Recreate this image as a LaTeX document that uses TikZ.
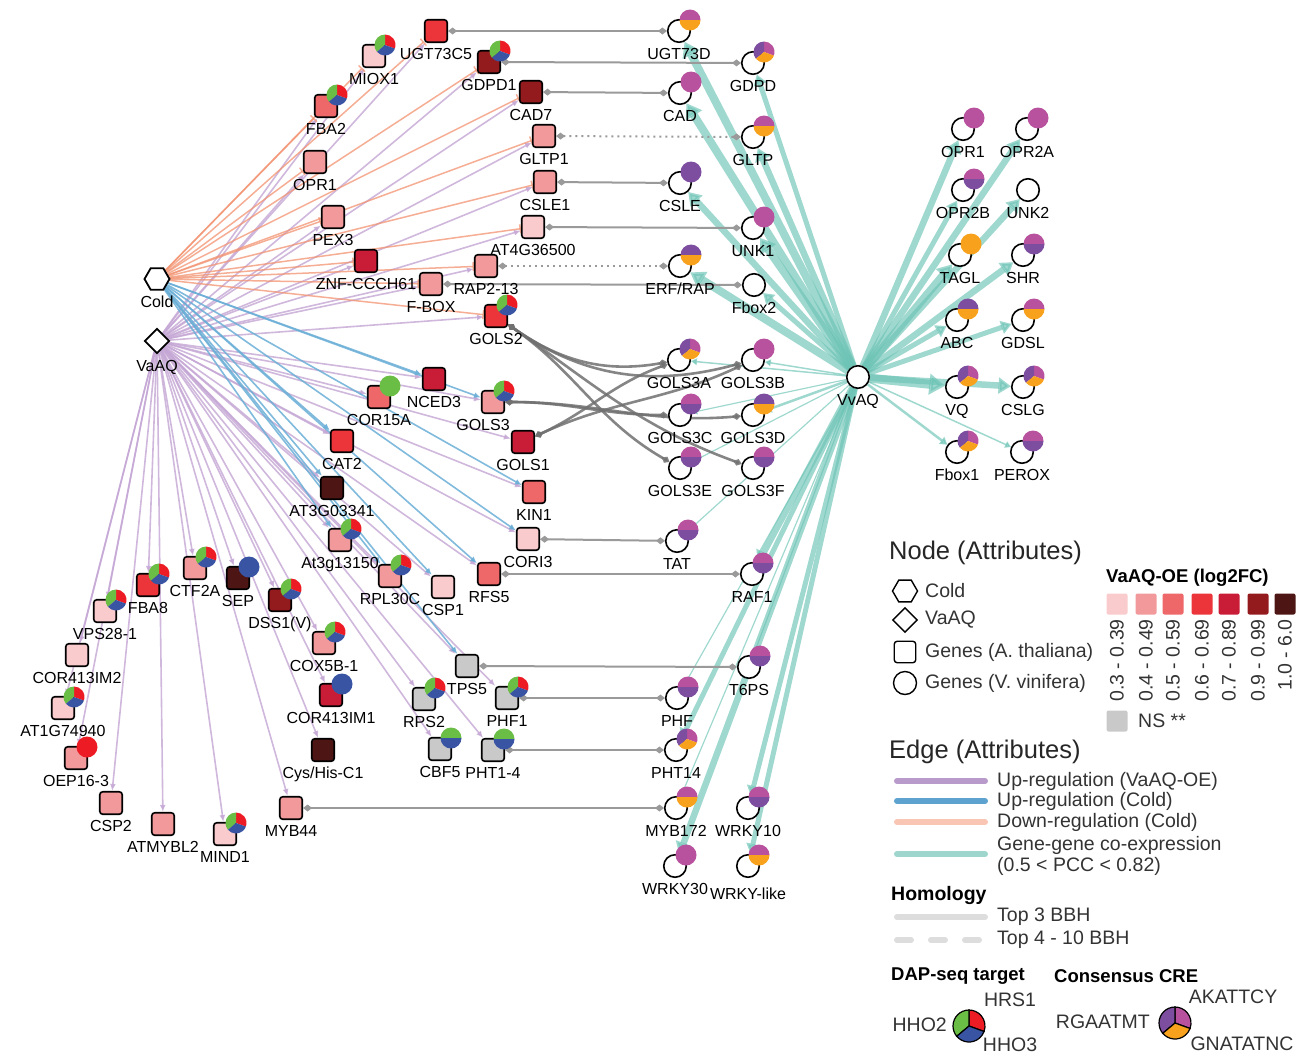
\documentclass[tikz,border=0pt]{standalone}
\usepackage{fontspec}
\setmainfont{Liberation Sans}
\usetikzlibrary{shapes, arrows.meta}
\usetikzlibrary{positioning, shapes.geometric, backgrounds}

% fold-change scale
\definecolor{fc1}{HTML}{F9CBCC}
\definecolor{fc2}{HTML}{F29A9B}
\definecolor{fc3}{HTML}{EE6769}
\definecolor{fc4}{HTML}{EC353A}
\definecolor{fc5}{HTML}{C91D37}
\definecolor{fc6}{HTML}{931B1E}
\definecolor{fc7}{HTML}{4D1513}
\definecolor{fcNS}{HTML}{C9C9C9}
% pies
\definecolor{dapG}{HTML}{6ABD45}
\definecolor{dapR}{HTML}{ED1C24}
\definecolor{dapB}{HTML}{3A54A4}
\definecolor{creM}{HTML}{B8519E}
\definecolor{creP}{HTML}{7D4E9F}
\definecolor{creO}{HTML}{F7A11C}
% edges
\definecolor{eorng}{HTML}{F29270}
\definecolor{epurp}{HTML}{C4A6D4}
\definecolor{eblu}{HTML}{6AAED6}
\definecolor{ecoex}{HTML}{6CC3B5}
\definecolor{ehom}{HTML}{9A9A9A}
\definecolor{ecur}{HTML}{707070}
% legend
\definecolor{legtext}{HTML}{333333}
\definecolor{legpurp}{HTML}{B99BCB}
\definecolor{legblu}{HTML}{5EA3CF}
\definecolor{legorng}{HTML}{F9C6B3}
\definecolor{legteal}{HTML}{9ED6CE}
\definecolor{leggry}{HTML}{DDDDDD}

\newcommand{\lblfont}{\fontsize{16}{18}\selectfont}
\newcommand{\legfont}{\fontsize{19.5}{21}\selectfont}
\newcommand{\headfont}{\fontsize{25.5}{27}\selectfont}

\tikzset{
  atg/.style={draw=black, line width=1.6pt, rounded corners=3pt, minimum size=22.5pt, inner sep=0pt},
  vvg/.style={circle, draw=black, line width=1.6pt, fill=white, minimum size=22.5pt, inner sep=0pt},
  hexa/.style={regular polygon, regular polygon sides=6, draw=black, line width=1.8pt, fill=white, minimum size=25pt, inner sep=0pt},
  diam/.style={diamond, draw=black, line width=1.8pt, fill=white, minimum size=25pt, inner sep=0pt},
  every label/.style={font=\lblfont, inner sep=0pt, text height=11.5pt, text depth=0pt},
  dnreg/.style={draw=eorng, draw opacity=0.75, line width=1.5pt, -{Bar[width=9pt, line width=1.5pt]}},
  upva/.style={draw=epurp, draw opacity=0.8, fill opacity=0.8, line width=1.6pt, -{Latex[length=7pt, width=6pt]}},
  upcold/.style={draw=eblu, draw opacity=0.85, fill opacity=0.85, line width=1.6pt, -{Latex[length=7pt, width=6pt]}},
  coex/.style={draw=ecoex, draw opacity=0.65, fill opacity=0.65, -{Triangle[length=4pt 1.3, width=4pt 1.8]}},
  hom/.style={draw=ehom, line width=2pt, {Diamond[length=9pt, width=7pt]}-{Diamond[length=9pt, width=7pt]}},
  homdot/.style={hom, dash pattern=on 2pt off 4pt},
  homcur/.style={hom, draw=ecur, draw opacity=0.85, fill opacity=0.85, line width=2.6pt},
  legtxt/.style={font=\legfont, text=legtext, anchor=west, inner sep=0pt},
  pics/dap/.style={code={
    \fill[dapR] (0,0) -- (-20:10.5) arc[start angle=-20, end angle=90, radius=10.5] -- cycle;
    \fill[dapG] (0,0) -- (90:10.5) arc[start angle=90, end angle=220, radius=10.5] -- cycle;
    \fill[dapB] (0,0) -- (220:10.5) arc[start angle=220, end angle=340, radius=10.5] -- cycle;
  }},
  pics/cre/.style={code={
    \fill[creM] (0,0) -- (-20:10.5) arc[start angle=-20, end angle=90, radius=10.5] -- cycle;
    \fill[creP] (0,0) -- (90:10.5) arc[start angle=90, end angle=220, radius=10.5] -- cycle;
    \fill[creO] (0,0) -- (220:10.5) arc[start angle=220, end angle=340, radius=10.5] -- cycle;
  }},
  pics/halves/.style 2 args={code={
    \fill[#1] (10.5,0) arc[start angle=0, end angle=180, radius=10.5] -- cycle;
    \fill[#2] (-10.5,0) arc[start angle=180, end angle=360, radius=10.5] -- cycle;
  }},
  pics/onecol/.style={code={\fill[#1] (0,0) circle[radius=10.5];}}
}

\begin{document}
\begin{tikzpicture}[x=1pt, y=1pt, label distance=5pt]
\useasboundingbox (0,0) rectangle (1308,-1055);

%--------- treatments
\node[hexa, label=below:Cold] (Cold) at (157,-279) {};
\node[diam, label=below:VaAQ] (VaAQ) at (157,-341) {};

%--------- A. thaliana genes
\node[atg, fill=fc4, label=below:UGT73C5]    (UGT73C5)   at (436,-31)  {};
\node[atg, fill=fc1, label=below:MIOX1]      (MIOX1)     at (374,-56)  {};
\node[atg, fill=fc3, label=below:FBA2]       (FBA2)      at (326,-106) {};
\node[atg, fill=fc2, label=below:OPR1]       (atOPR1)    at (315,-162) {};
\node[atg, fill=fc2, label=below:PEX3]       (PEX3)      at (333,-217) {};
\node[atg, fill=fc5, label=below:ZNF-CCCH61] (ZNF)       at (366,-261) {};
\node[atg, fill=fc2, label=below:F-BOX]      (FBOX)      at (431,-284) {};
\node[atg, fill=fc6, label=below:GDPD1]      (GDPD1)     at (489,-62)  {};
\node[atg, fill=fc6, label=below:CAD7]       (CAD7)      at (531,-92)  {};
\node[atg, fill=fc2, label=below:GLTP1]      (GLTP1)     at (544,-136) {};
\node[atg, fill=fc2, label=below:CSLE1]      (CSLE1)     at (545,-182) {};
\node[atg, fill=fc1, label=below:AT4G36500]  (AT4G36500) at (533,-227) {};
\node[atg, fill=fc2, label=below:RAP2-13]    (RAP213)    at (486,-266) {};
\node[atg, fill=fc4, label=below:GOLS2]      (GOLS2)     at (496,-316) {};
\node[atg, fill=fc5, label=below:NCED3]      (NCED3)     at (434,-379) {};
\node[atg, fill=fc3, label=below:COR15A]     (COR15A)    at (379,-397) {};
\node[atg, fill=fc2, label={[xshift=-10pt]below:GOLS3}] (GOLS3) at (493,-402) {};
\node[atg, fill=fc5, label=below:GOLS1]      (GOLS1)     at (523,-442) {};
\node[atg, fill=fc4, label=below:CAT2]       (CAT2)      at (342,-441) {};
\node[atg, fill=fc7, label=below:AT3G03341]  (AT3G03341) at (332,-488) {};
\node[atg, fill=fc3, label=below:KIN1]       (KIN1)      at (534,-492) {};
\node[atg, fill=fc2, label=below:At3g13150]  (At3g13150) at (340,-540) {};
\node[atg, fill=fc1, label=below:CORI3]      (CORI3)     at (528,-539) {};
\node[atg, fill=fc2, label=below:RPL30C]     (RPL30C)    at (390,-576) {};
\node[atg, fill=fc1, label=below:CSP1]       (CSP1)      at (443,-587) {};
\node[atg, fill=fc3, label=below:RFS5]       (RFS5)      at (489,-574) {};
\node[atg, fill=fcNS, label=below:TPS5]      (TPS5)      at (467,-666) {};
\node[atg, fill=fcNS, label=below:RPS2]      (RPS2)      at (424,-699) {};
\node[atg, fill=fcNS, label=below:PHF1]      (PHF1)      at (507,-698) {};
\node[atg, fill=fcNS, label=below:CBF5]      (CBF5)      at (440,-749) {};
\node[atg, fill=fcNS, label=below:PHT1-4]    (atPHT14)   at (493,-750) {};
\node[atg, fill=fc1, label=below:VPS28-1]    (VPS28)     at (105,-611) {};
\node[atg, fill=fc4, label=below:FBA8]       (FBA8)      at (148,-585) {};
\node[atg, fill=fc2, label=below:CTF2A]      (CTF2A)     at (195,-568) {};
\node[atg, fill=fc7, label=below:SEP]        (SEP)       at (238,-578) {};
\node[atg, fill=fc6, label=below:DSS1(V)]    (DSS1)      at (280,-600) {};
\node[atg, fill=fc2, label=below:COX5B-1]    (COX5B)     at (324,-643) {};
\node[atg, fill=fc5, label=below:COR413IM1]  (COR413IM1) at (331,-695) {};
\node[atg, fill=fc7, label=below:Cys/His-C1] (CysHis)    at (323,-750) {};
\node[atg, fill=fc1, label=below:COR413IM2]  (COR413IM2) at (77,-655)  {};
\node[atg, fill=fc1, label=below:AT1G74940]  (AT1G74940) at (63,-708)  {};
\node[atg, fill=fc2, label=below:OEP16-3]    (OEP163)    at (76,-758)  {};
\node[atg, fill=fc2, label=below:CSP2]       (CSP2)      at (111,-803) {};
\node[atg, fill=fc2, label=below:ATMYBL2]    (ATMYBL2)   at (163,-824) {};
\node[atg, fill=fc1, label=below:MIND1]      (MIND1)     at (225,-834) {};
\node[atg, fill=fc2, label=below:MYB44]      (MYB44)     at (291,-808) {};

%--------- V. vinifera genes
\node[vvg, label=below:VvAQ]     (VvAQ)    at (858,-377) {};
\node[vvg, label=below:UGT73D]   (UGT73D)  at (679,-31)  {};
\node[vvg, label=below:GDPD]     (GDPD)    at (753,-63)  {};
\node[vvg, label=below:CAD]      (CAD)     at (680,-93)  {};
\node[vvg, label=below:GLTP]     (GLTP)    at (753,-137) {};
\node[vvg, label=below:CSLE]     (CSLE)    at (680,-183) {};
\node[vvg, label=below:UNK1]     (UNK1)    at (753,-228) {};
\node[vvg, label=below:ERF/RAP]  (ERFRAP)  at (680,-266) {};
\node[vvg, label=below:Fbox2]    (Fbox2)   at (754,-285) {};
\node[vvg, label=below:GOLS3A]   (GOLS3A)  at (679,-360) {};
\node[vvg, label=below:GOLS3B]   (GOLS3B)  at (753,-360) {};
\node[vvg, label=below:GOLS3C]   (GOLS3C)  at (680,-415) {};
\node[vvg, label=below:GOLS3D]   (GOLS3D)  at (753,-415) {};
\node[vvg, label=below:GOLS3E]   (GOLS3E)  at (680,-468) {};
\node[vvg, label=below:GOLS3F]   (GOLS3F)  at (753,-468) {};
\node[vvg, label=below:TAT]      (TAT)     at (677,-541) {};
\node[vvg, label=below:RAF1]     (RAF1)    at (752,-574) {};
\node[vvg, label=below:T6PS]     (T6PS)    at (749,-667) {};
\node[vvg, label=below:PHF]      (PHF)     at (677,-698) {};
\node[vvg, label=below:PHT14]    (PHT14)   at (676,-750) {};
\node[vvg, label=below:MYB172]   (MYB172)  at (676,-808) {};
\node[vvg, label=below:WRKY10]   (WRKY10)  at (748,-808) {};
\node[vvg, label=below:WRKY30]   (WRKY30)  at (675,-866) {};
\node[vvg, label={[yshift=-5pt]below:WRKY-like}] (WRKYlike) at (748,-866) {};
\node[vvg, label=below:OPR1]     (vvOPR1)  at (963,-129) {};
\node[vvg, label=below:OPR2A]    (OPR2A)   at (1027,-129) {};
\node[vvg, label=below:OPR2B]    (OPR2B)   at (963,-190) {};
\node[vvg, label=below:UNK2]     (UNK2)    at (1028,-190) {};
\node[vvg, label=below:TAGL]     (TAGL)    at (960,-255) {};
\node[vvg, label=below:SHR]      (SHR)     at (1023,-255) {};
\node[vvg, label=below:ABC]      (ABC)     at (957,-320) {};
\node[vvg, label=below:GDSL]     (GDSL)    at (1023,-320) {};
\node[vvg, label=below:VQ]       (VQ)      at (957,-387) {};
\node[vvg, label=below:CSLG]     (CSLG)    at (1023,-387) {};
\node[vvg, label=below:Fbox1]    (Fbox1)   at (957,-452) {};
\node[vvg, label=below:PEROX]    (PEROX)   at (1022,-452) {};

%--------- DAP-seq pies
\foreach \g in {MIOX1, FBA2, GDPD1, GOLS2, GOLS3, At3g13150, RPL30C, CTF2A, FBA8, VPS28, DSS1, COX5B, AT1G74940, MIND1, RPS2, PHF1}
  \pic at ([shift={(11,11)}]\g.center) {dap};
\pic at ([shift={(11,11)}]COR15A.center) {onecol=dapG};
\pic at ([shift={(11,11)}]SEP.center) {onecol=dapB};
\pic at ([shift={(11,11)}]COR413IM1.center) {onecol=dapB};
\pic at ([shift={(11,11)}]OEP163.center) {onecol=dapR};
\pic at ([shift={(11,11)}]CBF5.center) {halves={dapG}{dapB}};
\pic at ([shift={(11,11)}]atPHT14.center) {halves={dapG}{dapB}};

%--------- CRE pies
\foreach \g in {GDPD, GOLS3A, PHT14, VQ, CSLG, Fbox1}
  \pic at ([shift={(11,11)}]\g.center) {cre};
\foreach \g in {CAD, UNK1, GOLS3B, WRKY30, vvOPR1, OPR2A}
  \pic at ([shift={(11,11)}]\g.center) {onecol=creM};
\pic at ([shift={(11,11)}]CSLE.center) {onecol=creP};
\pic at ([shift={(11,11)}]TAGL.center) {onecol=creO};
\foreach \g in {UGT73D, GLTP, MYB172, WRKYlike, GDSL}
  \pic at ([shift={(11,11)}]\g.center) {halves={creM}{creO}};
\foreach \g in {GOLS3C, GOLS3E, GOLS3F, TAT, RAF1, T6PS, PHF, WRKY10, OPR2B, SHR, PEROX}
  \pic at ([shift={(11,11)}]\g.center) {halves={creM}{creP}};
\foreach \g in {ERFRAP, GOLS3D, ABC}
  \pic at ([shift={(11,11)}]\g.center) {halves={creP}{creO}};

%--------- edges
\begin{scope}[on background layer]
  % co-expression with VvAQ
  \foreach \g/\w in {UGT73D/8pt, GDPD/5pt, CAD/8pt, GLTP/6.5pt, CSLE/6.5pt, UNK1/8pt, ERFRAP/8pt, Fbox2/5pt,
      GOLS3A/1.5pt, GOLS3B/1.5pt, GOLS3C/1.2pt, GOLS3D/2.5pt, GOLS3E/1.2pt, TAT/1.2pt, RAF1/6.5pt, T6PS/1.2pt,
      PHF/1.2pt, PHT14/5pt, MYB172/1.2pt, WRKY30/6.5pt, WRKY10/5pt, WRKYlike/5pt,
      vvOPR1/6.5pt, OPR2A/6.5pt, OPR2B/5pt, UNK2/6.5pt, TAGL/8pt, SHR/6.5pt, ABC/5pt, GDSL/5pt,
      VQ/9pt, CSLG/6.5pt, Fbox1/2.5pt, PEROX/1.5pt}
    \draw[coex, line width=\w] (VvAQ) -- (\g);
  % VaAQ-OE up-regulation
  \foreach \g in {UGT73C5, MIOX1, FBA2, atOPR1, PEX3, ZNF, FBOX, GDPD1, CAD7, GLTP1, CSLE1, AT4G36500,
      RAP213, GOLS2, NCED3, COR15A, GOLS3, GOLS1, CAT2, AT3G03341, KIN1, At3g13150, CORI3, RPL30C,
      CSP1, RFS5, TPS5, RPS2, PHF1, CBF5, atPHT14, VPS28, FBA8, CTF2A, SEP, DSS1, COX5B, COR413IM1,
      CysHis, COR413IM2, AT1G74940, OEP163, CSP2, ATMYBL2, MIND1, MYB44}
    \draw[upva] (VaAQ) -- (\g);
  % cold up-regulation
  \foreach \g in {NCED3, GOLS3, CAT2, AT3G03341, KIN1, At3g13150, CORI3, RPL30C, CSP1, RFS5, TPS5}
    \draw[upcold] (Cold) -- (\g);
  % cold down-regulation
  \foreach \g in {UGT73C5, MIOX1, FBA2, atOPR1, PEX3, ZNF, FBOX, GDPD1, CAD7, GLTP1, CSLE1, AT4G36500, RAP213, GOLS2}
    \draw[dnreg] (Cold) -- (\g);
  % homology
  \draw[hom] (UGT73C5)--(UGT73D);
  \draw[hom] (GDPD1)--(GDPD);
  \draw[hom] (CAD7)--(CAD);
  \draw[homdot] (GLTP1)--(GLTP);
  \draw[hom] (CSLE1)--(CSLE);
  \draw[hom] (AT4G36500)--(UNK1);
  \draw[homdot] (RAP213)--(ERFRAP);
  \draw[hom] (FBOX)--(Fbox2);
  \draw[hom] (CORI3)--(TAT);
  \draw[hom] (RFS5)--(RAF1);
  \draw[hom] (TPS5)--(T6PS);
  \draw[hom] (PHF1)--(PHF);
  \draw[hom] (atPHT14)--(PHT14);
  \draw[hom] (MYB44)--(MYB172);
  \draw[homcur] (GOLS2) to[out=-35, in=190] (GOLS3A);
  \draw[homcur] (GOLS2) to[out=-35, in=195] (GOLS3B);
  \draw[homcur] (GOLS2) to[out=-35, in=150] (GOLS3E);
  \draw[homcur] (GOLS2) to[out=-35, in=160] (GOLS3F);
  \draw[homcur] (GOLS3) to[out=0, in=180] (GOLS3C);
  \draw[homcur] (GOLS3) to[out=0, in=185] (GOLS3D);
  \draw[homcur] (GOLS1) to[out=25, in=200] (GOLS3A);
  \draw[homcur] (GOLS1) to[out=25, in=205] (GOLS3B);
\end{scope}

%--------- legend: nodes
\node[font=\headfont, text=black!85, anchor=west, inner sep=0pt] (nodehead) at (889,-553) {Node (Attributes)};
\node[regular polygon, regular polygon sides=6, draw=black, line width=1.4pt, minimum size=25pt, inner sep=0pt] (lcold) at (905,-591) {};
\node[legtxt] (tcold) at (925,-591) {Cold};
\node[diamond, draw=black, line width=1.4pt, minimum size=25pt, inner sep=0pt] (lvaaq) at (905,-620) {};
\node[legtxt] (tvaaq) at (925,-620) {VaAQ};
\node[draw=black, line width=1.4pt, rounded corners=3pt, minimum size=21.5pt, inner sep=0pt] (lath) at (905,-652) {};
\node[legtxt] (tath) at (925,-652) {Genes (A. thaliana)};
\node[circle, draw=black, line width=1.4pt, minimum size=23pt, inner sep=0pt] (lvvi) at (905,-683) {};
\node[legtxt] (tvvi) at (925,-683) {Genes (V. vinifera)};

\node[font=\fontsize{18.5}{20}\selectfont\bfseries, anchor=west, inner sep=0pt] (fchead) at (1106,-578) {VaAQ-OE (log2FC)};
\foreach \c/\x/\t [count=\i] in {fc1/1117/0.3 - 0.39, fc2/1146/0.4 - 0.49, fc3/1173/0.5 - 0.59, fc4/1202/0.6 - 0.69,
    fc5/1229/0.7 - 0.89, fc6/1258/0.9 - 0.99, fc7/1285/1.0 - 6.0} {
  \node[fill=\c, rounded corners=2pt, minimum size=21pt, inner sep=0pt] (key\i) at (\x,-604) {};
  \node[font=\legfont, text=legtext, rotate=90, anchor=east, inner sep=0pt] (keyt\i) at (\x,-619) {\t};
}
\node[fill=fcNS, rounded corners=2pt, minimum size=21pt, inner sep=0pt] (keyns) at (1117,-721) {};
\node[legtxt] (tns) at (1138,-721) {NS **};

%--------- legend: edges
\node[font=\headfont, text=black!85, anchor=west, inner sep=0pt] (edgehead) at (889,-752) {Edge (Attributes)};
\draw[legpurp, line width=6pt, line cap=round] (897,-781) -- (985,-781);
\node[legtxt] (tupva) at (997,-781) {Up-regulation (VaAQ-OE)};
\draw[legblu, line width=6pt, line cap=round] (897,-801) -- (985,-801);
\node[legtxt] (tupc) at (997,-801) {Up-regulation (Cold)};
\draw[legorng, line width=6pt, line cap=round] (897,-822) -- (985,-822);
\node[legtxt] (tdnc) at (997,-822) {Down-regulation (Cold)};
\draw[legteal, line width=6pt, line cap=round] (897,-854) -- (985,-854);
\node[legtxt, align=left] (tcoex) at (997,-856) {Gene-gene co-expression\\(0.5 < PCC < 0.82)};

\node[font=\fontsize{19.5}{21}\selectfont\bfseries, anchor=west, inner sep=0pt] (homhead) at (891,-895) {Homology};
\draw[leggry, line width=6pt, line cap=round] (897,-917) -- (985,-917);
\node[legtxt] (ttop3) at (997,-917) {Top 3 BBH};
\draw[leggry, line width=6pt, line cap=round, dash pattern=on 14pt off 20pt] (897,-940) -- (985,-940);
\node[legtxt] (ttop10) at (997,-940) {Top 4 - 10 BBH};

%--------- legend: pies
\node[font=\fontsize{18.5}{20}\selectfont\bfseries, anchor=west, inner sep=0pt] (daphead) at (891,-976) {DAP-seq target};
\node[font=\fontsize{18.5}{20}\selectfont\bfseries, anchor=west, inner sep=0pt] (crehead) at (1054,-976) {Consensus CRE};
\begin{scope}[shift={(969,-1026)}, line width=1.2pt]
  \filldraw[fill=dapR] (0,0) -- (-20:16) arc[start angle=-20, end angle=90, radius=16] -- cycle;
  \filldraw[fill=dapG] (0,0) -- (90:16) arc[start angle=90, end angle=220, radius=16] -- cycle;
  \filldraw[fill=dapB] (0,0) -- (220:16) arc[start angle=220, end angle=340, radius=16] -- cycle;
\end{scope}
\node[font=\legfont, text=legtext, anchor=east, inner sep=0pt] (thho2) at (947,-1025) {HHO2};
\node[font=\legfont, text=legtext, inner sep=0pt] (thrs1) at (1010,-1000) {HRS1};
\node[font=\legfont, text=legtext, inner sep=0pt] (thho3) at (1010,-1045) {HHO3};
\begin{scope}[shift={(1175,-1023)}, line width=1.2pt]
  \filldraw[fill=creM] (0,0) -- (-20:16) arc[start angle=-20, end angle=90, radius=16] -- cycle;
  \filldraw[fill=creP] (0,0) -- (90:16) arc[start angle=90, end angle=220, radius=16] -- cycle;
  \filldraw[fill=creO] (0,0) -- (220:16) arc[start angle=220, end angle=340, radius=16] -- cycle;
\end{scope}
\node[font=\legfont, text=legtext, anchor=east, inner sep=0pt] (trga) at (1150,-1022) {RGAATMT};
\node[font=\legfont, text=legtext, inner sep=0pt] (taka) at (1233,-997) {AKATTCY};
\node[font=\legfont, text=legtext, inner sep=0pt] (tgna) at (1242,-1044) {GNATATNC};
\end{tikzpicture}
\end{document}
